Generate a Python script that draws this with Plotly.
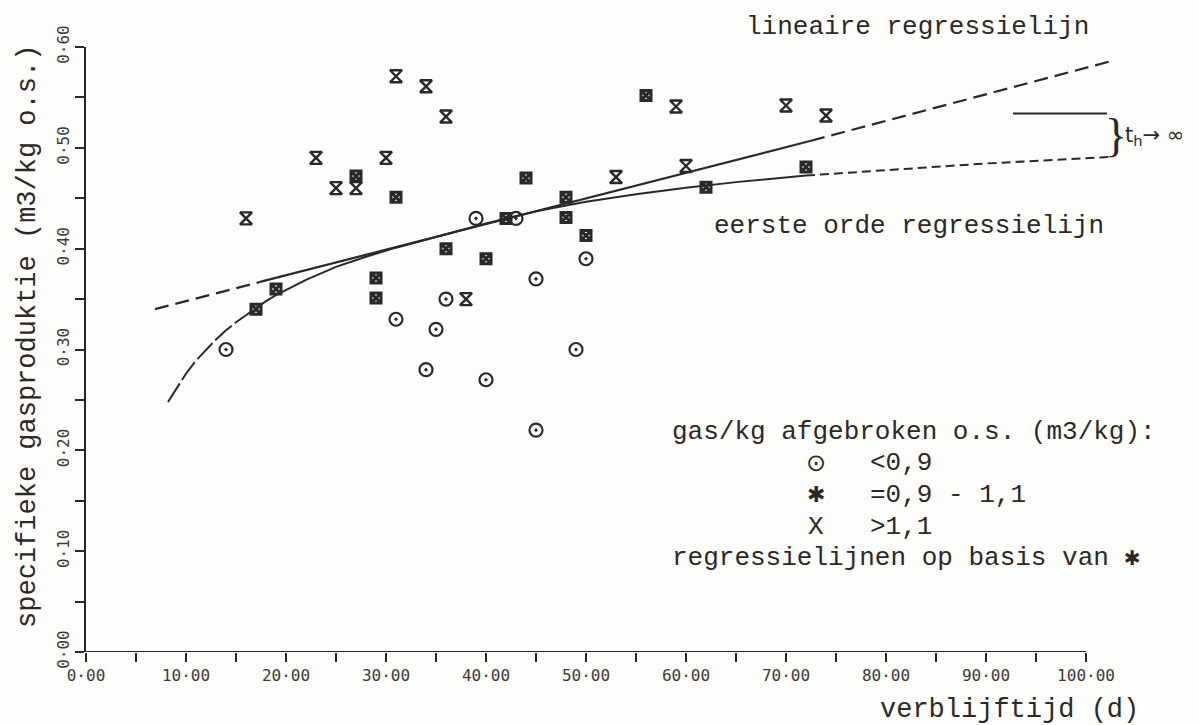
import plotly.graph_objects as go

# ---------------- data ----------------
# gas/kg afgebroken o.s. < 0,9
low_x = [14, 31, 34, 35, 36, 39, 40, 43, 45, 45, 49, 50]
low_y = [0.30, 0.33, 0.28, 0.32, 0.35, 0.43, 0.27, 0.43, 0.37, 0.22, 0.30, 0.39]
# gas/kg afgebroken o.s. = 0,9 - 1,1
mid_x = [17, 19, 27, 29, 29, 31, 36, 40, 42, 44, 48, 48, 50, 56, 62, 72]
mid_y = [0.34, 0.36, 0.472, 0.371, 0.351, 0.451, 0.40, 0.39, 0.43, 0.47, 0.451, 0.431, 0.413, 0.552, 0.461, 0.481]
# gas/kg afgebroken o.s. > 1,1
high_x = [16, 23, 25, 27, 30, 31, 34, 36, 38, 53, 59, 60, 70, 74]
high_y = [0.43, 0.49, 0.46, 0.46, 0.49, 0.571, 0.561, 0.531, 0.35, 0.471, 0.541, 0.482, 0.542, 0.532]

# lineaire regressielijn
lin_x = [6.9, 17.4, 72.5, 102.5]
lin_y = [0.340, 0.367, 0.507, 0.586]

# eerste orde regressielijn
fo_x = [8.2, 9, 10, 11, 12, 13, 14, 15, 16, 17, 18, 19, 20, 22, 25, 28, 31, 35, 40,
        45, 50, 55, 60, 65, 72, 80, 90, 102.4]
fo_y = [0.248, 0.261, 0.276, 0.289, 0.300, 0.310, 0.319, 0.327, 0.334, 0.341, 0.348,
        0.354, 0.359, 0.369, 0.382, 0.392, 0.401, 0.412, 0.425,
        0.437, 0.4465, 0.454, 0.4605, 0.466, 0.4725, 0.478, 0.4845, 0.491]

# asymptote (t_h -> oo)
asym_x = [92.7, 102.1]
asym_y = [0.534, 0.534]

x_ticks = [0, 10, 20, 30, 40, 50, 60, 70, 80, 90, 100]
x_minor = [5, 15, 25, 35, 45, 55, 65, 75, 85, 95]
y_ticks = [0.0, 0.1, 0.2, 0.3, 0.4, 0.5, 0.6]
y_minor = [0.05, 0.15, 0.25, 0.35, 0.45, 0.55]

# ---------------- styling ----------------
INK = "#2b2927"
MONO = "Liberation Mono, Courier New, monospace"
TICKF = "DejaVu Sans Mono, monospace"

fig = go.Figure()

def seg(xs, ys, i0, i1, dash, width=2.2):
    fig.add_trace(go.Scatter(x=xs[i0:i1 + 1], y=ys[i0:i1 + 1], mode="lines",
                             line=dict(color=INK, width=width, dash=dash),
                             hoverinfo="skip", showlegend=False, cliponaxis=False))

# linear regression: dashed - solid - dashed
seg(lin_x, lin_y, 0, 1, "14px,7px")
seg(lin_x, lin_y, 1, 2, "solid")
seg(lin_x, lin_y, 2, 3, "14px,7px")

# first order regression: long dash - solid - short dash
i17 = fo_x.index(17)
i72 = fo_x.index(72)
seg(fo_x, fo_y, 0, i17, "22px,4px", 2.0)
seg(fo_x, fo_y, i17, i72, "solid", 2.0)
seg(fo_x, fo_y, i72, len(fo_x) - 1, "9px,5px", 2.0)

# asymptote
fig.add_trace(go.Scatter(x=asym_x, y=asym_y, mode="lines",
                         line=dict(color=INK, width=2), hoverinfo="skip",
                         showlegend=False, cliponaxis=False))

# markers
fig.add_trace(go.Scatter(x=low_x, y=low_y, mode="markers", showlegend=False,
                         marker=dict(symbol="circle-open-dot", size=13, color=INK,
                                     line=dict(width=2.2, color=INK))))
fig.add_trace(go.Scatter(x=mid_x, y=mid_y, mode="markers", showlegend=False,
                         marker=dict(symbol="square-x-open", size=10, color=INK,
                                     line=dict(width=3, color=INK))))
fig.add_trace(go.Scatter(x=high_x, y=high_y, mode="markers", showlegend=False,
                         marker=dict(symbol="hourglass-open", size=12, color=INK,
                                     line=dict(width=2.4, color=INK))))

# x axis line (only 0..100)
fig.add_shape(type="line", x0=0, x1=100, y0=0, y1=0, xref="x", yref="y",
              line=dict(color=INK, width=2))

def fmt(v, dec=2):
    return f"{v:.{dec}f}".replace(".", "·")

fig.update_layout(
    width=1199, height=725,
    margin=dict(l=86, r=0, t=47, b=73),
    paper_bgcolor="#fdfdfb", plot_bgcolor="#fdfdfb",
    showlegend=False,
    xaxis=dict(range=[0, 111.3], showgrid=False, zeroline=False, showline=False,
               tickmode="array", tickvals=x_ticks, ticktext=[fmt(v) for v in x_ticks],
               ticks="outside", ticklen=9, tickwidth=2, tickcolor=INK,
               minor=dict(tickmode="array", tickvals=x_minor, ticks="outside",
                          ticklen=9, tickwidth=2, tickcolor=INK, showgrid=False),
               tickfont=dict(family=TICKF, size=16, color="#3c3936")),
    yaxis=dict(range=[0, 0.6], showgrid=False, zeroline=False, showline=True,
               linecolor=INK, linewidth=2,
               tickmode="array", tickvals=y_ticks, ticktext=[fmt(v) for v in y_ticks],
               ticks="outside", ticklen=9, tickwidth=2, tickcolor=INK, tickangle=-90,
               minor=dict(tickmode="array", tickvals=y_minor, ticks="outside",
                          ticklen=9, tickwidth=2, tickcolor=INK, showgrid=False),
               tickfont=dict(family=TICKF, size=16, color="#3c3936")),
)

def ann(text, x, y, size=26, xanchor="center", angle=0, family=MONO, ref="data"):
    xr, yr = ("x", "y") if ref == "data" else ("paper", "paper")
    fig.add_annotation(text=text, x=x, y=y, xref=xr, yref=yr, showarrow=False,
                       xanchor=xanchor, yanchor="middle", textangle=angle,
                       font=dict(family=family, size=size, color=INK))

# texts outside the plotting range -> paper coordinates
ann("lineaire regressielijn", 0.7475, 1.033, ref="paper")
ann("verblijftijd (d)", 0.830, -0.096, size=27, ref="paper")
ann("specifieke gasproduktie (m3/kg o.s.)", -0.052, 0.521, size=27, angle=-90, ref="paper")

ann("eerste orde regressielijn", 82.3, 0.422)

# legend block
ann("gas/kg afgebroken o.s. (m3/kg):", 58.4, 0.218, xanchor="left")
ann("⊙", 73.0, 0.1875, size=24, family="DejaVu Sans")
ann("<0,9", 78.2, 0.1875, xanchor="left")
ann("✱", 73.0, 0.156, size=22, family="DejaVu Sans")
ann("=0,9 - 1,1", 78.2, 0.156, xanchor="left")
ann("X", 73.0, 0.124)
ann(">1,1", 78.2, 0.124, xanchor="left")
ann("regressielijnen op basis van ✱", 58.4, 0.0933, xanchor="left")

# brace and t_h -> oo
ann("}", 103.0, 0.512, size=46, family="Liberation Serif")
ann("t<sub>h</sub>→ ∞", 103.7, 0.512, size=21, xanchor="left", family="DejaVu Sans")

fig.write_html("out.html")
